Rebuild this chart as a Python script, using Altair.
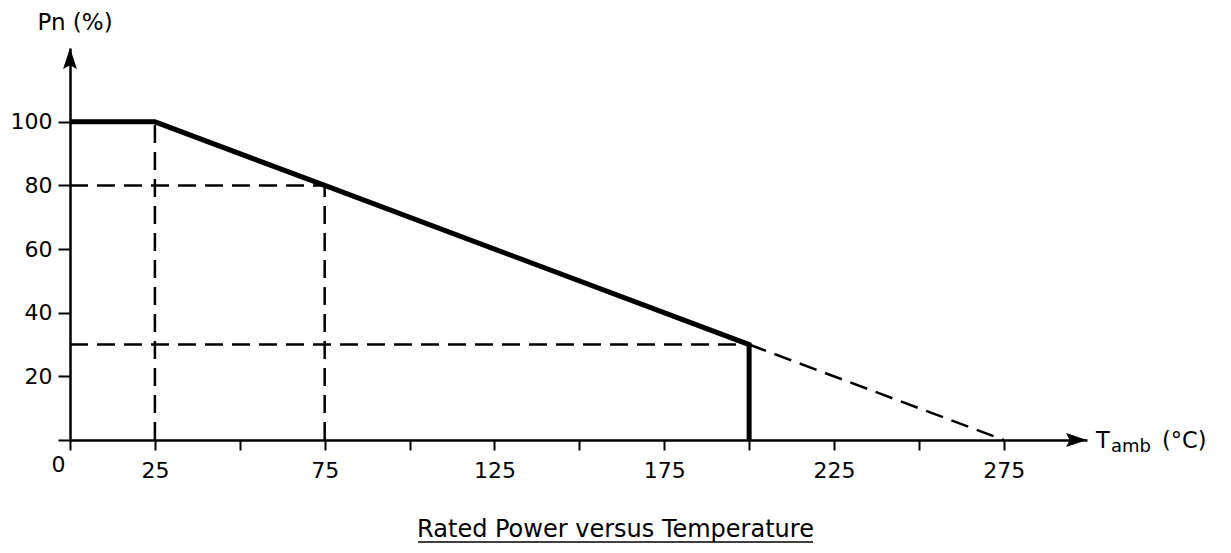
import altair as alt
import pandas as pd

# ---- data ----
curve_t = [0, 25, 75, 200, 200]          # solid derating curve (°C)
curve_p = [100, 100, 80, 30, 0]          # rated power (%)
extrap_t = [200, 275]                    # dashed extrapolation
extrap_p = [30, 0]
guide_t = [25, 75, 0, 0]                 # dashed guide lines
guide_t2 = [25, 75, 75, 200]
guide_p = [0, 0, 80, 30]
guide_p2 = [100, 80, 80, 30]
x_ticks = [0, 25, 50, 75, 100, 125, 150, 175, 200, 225, 250, 275]
x_labels = [0, 25, 75, 125, 175, 225, 275]
y_ticks = [0, 20, 40, 60, 80, 100]
y_labels = [20, 40, 60, 80, 100]
x_max = 299.5
y_max = 123.2
caption = "Rated Power versus Temperature"

FONT = "DejaVu Sans"

curve = pd.DataFrame({"t": curve_t, "p": curve_p, "o": list(range(len(curve_t)))})
extrap = pd.DataFrame({"t": extrap_t, "p": extrap_p})
guides = pd.DataFrame({"t": guide_t, "t2": guide_t2, "p": guide_p, "p2": guide_p2})

xs = alt.Scale(domain=[0, x_max], nice=False, zero=False)
ys = alt.Scale(domain=[0, y_max], nice=False, zero=False)

x_lab_expr = "indexof([" + ",".join(str(v) for v in x_labels) + "], datum.value) >= 0 ? datum.label : ''"
y_lab_expr = "indexof([" + ",".join(str(v) for v in y_labels) + "], datum.value) >= 0 ? datum.label : ''"

x_axis = alt.Axis(
    values=x_ticks, labelExpr=x_lab_expr, title=None, grid=False,
    domainColor="black", domainWidth=2.5, tickColor="black", tickWidth=2, tickSize=10,
    labelFont=FONT, labelFontSize=22, labelColor="black",
    labelPadding={"expr": "datum.value == 0 ? 4 : 10"},
    labelOffset={"expr": "datum.value == 0 ? -12 : 0"},
    labelOverlap=False, labelFlush=False, labelBound=False,
)
y_axis = alt.Axis(
    values=y_ticks, labelExpr=y_lab_expr, grid=False,
    domainColor="black", domainWidth=2.5, tickColor="black", tickWidth=2, tickSize=12,
    labelFont=FONT, labelFontSize=22, labelColor="black", labelPadding=6,
    labelOverlap=False, labelFlush=False, labelBound=False,
    title="Pn (%)", titleAngle=0, titleAlign="left", titleBaseline="alphabetic",
    titleX=-33, titleY=-19, titleFont=FONT, titleFontSize=23, titleFontWeight="normal",
    titleColor="black",
)

dash = [18, 9]

guide_layer = alt.Chart(guides).mark_rule(color="black", strokeWidth=2.5, strokeDash=dash).encode(
    x=alt.X("t:Q", scale=xs, axis=x_axis),
    x2="t2:Q",
    y=alt.Y("p:Q", scale=ys, axis=y_axis),
    y2="p2:Q",
)

extrap_layer = alt.Chart(extrap).mark_line(color="black", strokeWidth=2.5, strokeDash=dash).encode(
    x=alt.X("t:Q", scale=xs),
    y=alt.Y("p:Q", scale=ys),
)

curve_layer = alt.Chart(curve).mark_line(color="black", strokeWidth=5, strokeJoin="miter").encode(
    x=alt.X("t:Q", scale=xs),
    y=alt.Y("p:Q", scale=ys),
    order="o:Q",
)

arrow_x = alt.Chart().mark_point(
    shape="M0,0L-1,-0.33L-0.82,0L-1,0.33Z", size=1764, filled=True, color="black", opacity=1, strokeWidth=0
).encode(x=alt.XDatum(x_max, scale=xs), y=alt.YDatum(0, scale=ys))

arrow_y = alt.Chart().mark_point(
    shape="M0,0L-0.33,1L0,0.82L0.33,1Z", size=1764, filled=True, color="black", opacity=1, strokeWidth=0
).encode(x=alt.XDatum(0, scale=xs), y=alt.YDatum(y_max, scale=ys))


def xlabel_part(txt, dx, dy, size):
    return alt.Chart().mark_text(
        text=txt, align="left", baseline="alphabetic", dx=dx, dy=dy,
        font=FONT, fontSize=size, color="black"
    ).encode(x=alt.XDatum(x_max, scale=xs), y=alt.YDatum(0, scale=ys))


t_main = xlabel_part("T", 9, 8, 22.5)
t_sub = xlabel_part("amb", 24, 12, 18)
t_unit = xlabel_part("(°C)", 75, 8, 22.5)

caption_text = alt.Chart().mark_text(
    text=caption, align="center", baseline="alphabetic",
    font=FONT, fontSize=24, color="black"
).encode(x=alt.value(545.5), y=alt.value(489))

underline = alt.Chart().mark_rule(color="black", strokeWidth=1.5).encode(
    x=alt.value(348), x2=alt.value(743), y=alt.value(494)
)

chart = alt.layer(
    guide_layer, extrap_layer, curve_layer, arrow_x, arrow_y,
    t_main, t_sub, t_unit, caption_text, underline
).properties(
    width=1017, height=392,
    autosize=alt.AutoSizeParams(type="none"),
    padding={"left": 62, "top": 40, "right": 136, "bottom": 105},
    background="white",
).configure_view(stroke=None)

chart.save("out.html", embed_options={"renderer": "svg", "actions": False})
